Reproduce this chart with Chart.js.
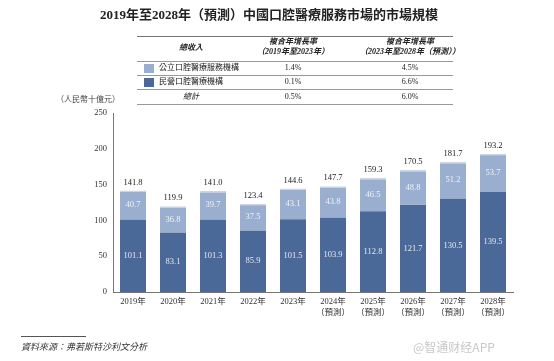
<!DOCTYPE html>
<html>
<head>
<meta charset="utf-8">
<script src="https://cdn.jsdelivr.net/npm/chart.js@4/dist/chart.umd.min.js"></script>
<style>
  body { margin: 0; background: #fff; }
  #wrap { position: relative; width: 554px; height: 361px; overflow: hidden;
    font-family: "Liberation Serif", "Noto Sans CJK TC", serif; color: #222; }
  #chart { position: absolute; left: 0; top: 0; }
  .abs { position: absolute; white-space: nowrap; }
  .title { left: 0; width: 538px; top: 4px; text-align: center; font-size: 13px; font-weight: bold; }
  .hline { position: absolute; left: 137px; width: 316px; height: 0; border-top: 1px solid #999; }
  .hline.thick { border-top: 1.5px solid #777; }
  .cell { position: absolute; font-size: 8px; text-align: center; line-height: 10px; }
  .hdr { font-weight: bold; font-style: italic; }
  .sw { position: absolute; width: 10px; height: 9px; }
  .unit { left: 56px; top: 93px; font-size: 8px; color: #444; }
  .src { left: 21px; top: 340px; font-size: 9px; font-style: italic; color: #333; }
  .srcline { position: absolute; left: 21px; top: 336px; width: 65px; border-top: 1px solid #555; }
  .wm { left: 413px; top: 338px; font-size: 12px; color: #c8c8c8; font-family: "Noto Sans CJK SC", sans-serif; }
</style>
</head>
<body>
<div id="wrap">
  <canvas id="chart" width="554" height="361"></canvas>
  <div class="abs title">2019年至2028年（預測）中國口腔醫療服務市場的市場規模</div>

  <div class="hline thick" style="top:36px"></div>
  <div class="hline" style="top:61px"></div>
  <div class="hline" style="top:75px"></div>
  <div class="hline" style="top:89px"></div>
  <div class="hline" style="top:104px"></div>

  <div class="cell hdr" style="left:141px;width:100px;top:43px">總收入</div>
  <div class="cell hdr" style="left:243px;width:100px;top:37px">複合年增長率<br>（2019年至2023年）</div>
  <div class="cell hdr" style="left:350px;width:120px;top:37px">複合年增長率<br>（2023年至2028年（預測））</div>

  <div class="sw" style="left:144px;top:64px;background:#9aaecf"></div>
  <div class="cell" style="left:159px;top:63px;text-align:left">公立口腔醫療服務機構</div>
  <div class="cell" style="left:263px;width:60px;top:63px">1.4%</div>
  <div class="cell" style="left:380px;width:60px;top:63px">4.5%</div>

  <div class="sw" style="left:144px;top:78px;background:#4a6898"></div>
  <div class="cell" style="left:159px;top:77px;text-align:left">民營口腔醫療機構</div>
  <div class="cell" style="left:263px;width:60px;top:77px">0.1%</div>
  <div class="cell" style="left:380px;width:60px;top:77px">6.6%</div>

  <div class="cell" style="left:141px;width:100px;top:92px;font-style:italic">總計</div>
  <div class="cell" style="left:263px;width:60px;top:92px">0.5%</div>
  <div class="cell" style="left:380px;width:60px;top:92px">6.0%</div>

  <div class="abs unit">（人民幣十億元）</div>
  <div class="srcline"></div>
  <div class="abs src">資料來源：弗若斯特沙利文分析</div>
  <div class="abs wm">@智通财经APP</div>
</div>
<script>
const years = ["2019年", "2020年", "2021年", "2022年", "2023年",
  ["2024年", "（預測）"], ["2025年", "（預測）"], ["2026年", "（預測）"],
  ["2027年", "（預測）"], ["2028年", "（預測）"]];
const privateValues = [101.1, 83.1, 101.3, 85.9, 101.5, 103.9, 112.8, 121.7, 130.5, 139.5];
const publicValues = [40.7, 36.8, 39.7, 37.5, 43.1, 43.8, 46.5, 48.8, 51.2, 53.7];
const totals = [141.8, 119.9, 141.0, 123.4, 144.6, 147.7, 159.3, 170.5, 181.7, 193.2];
const yTicks = [0, 50, 100, 150, 200, 250];

const serif = '"Liberation Serif", "Noto Sans CJK TC", serif';

const labelPlugin = {
  id: "barLabels",
  afterDatasetsDraw(chart) {
    const ctx = chart.ctx;
    ctx.save();
    ctx.font = "8.5px " + serif;
    ctx.textAlign = "center";
    ctx.textBaseline = "middle";
    chart.data.datasets.forEach((ds, di) => {
      const meta = chart.getDatasetMeta(di);
      meta.data.forEach((bar, i) => {
        const mid = (bar.y + bar.base) / 2;
        ctx.fillStyle = "rgba(255,255,255,0.85)";
        ctx.fillText(ds.data[i].toFixed(1), bar.x, mid);
      });
    });
    const top = chart.getDatasetMeta(1);
    top.data.forEach((bar, i) => {
      ctx.fillStyle = "#222";
      ctx.fillText(totals[i].toFixed(1), bar.x, bar.y - 8);
    });
    ctx.restore();
  }
};

new Chart(document.getElementById("chart"), {
  type: "bar",
  data: {
    labels: years,
    datasets: [{
      label: "民營口腔醫療機構",
      data: privateValues,
      backgroundColor: "#4a6898",
      barPercentage: 0.65,
      categoryPercentage: 1
    }, {
      label: "公立口腔醫療服務機構",
      data: publicValues,
      backgroundColor: "#9aaecf",
      borderColor: "#c9d4e8",
      borderWidth: { top: 1.5, left: 0, right: 0, bottom: 0 },
      borderSkipped: "bottom",
      barPercentage: 0.65,
      categoryPercentage: 1
    }]
  },
  options: {
    responsive: false,
    animation: false,
    layout: { padding: { left: 0, right: 41, top: 113, bottom: 0 } },
    plugins: { legend: { display: false }, tooltip: { enabled: false } },
    scales: {
      x: {
        stacked: true,
        grid: { display: false, drawTicks: false },
        border: { color: "#777", width: 1 },
        ticks: { color: "#333", font: { family: serif, size: 8.5 }, padding: 5, maxRotation: 0, autoSkip: false },
        afterFit(scale) { scale.height = 69; }
      },
      y: {
        stacked: true,
        min: 0,
        max: 250,
        afterBuildTicks(scale) { scale.ticks = yTicks.map(v => ({ value: v })); },
        grid: { display: false, drawTicks: true, tickLength: 4, tickColor: "#777" },
        border: { color: "#777", width: 1 },
        ticks: { color: "#333", font: { family: serif, size: 8.5 }, padding: 2 },
        afterFit(scale) { scale.width = 113; }
      }
    }
  },
  plugins: [labelPlugin]
});
</script>
</body>
</html>
